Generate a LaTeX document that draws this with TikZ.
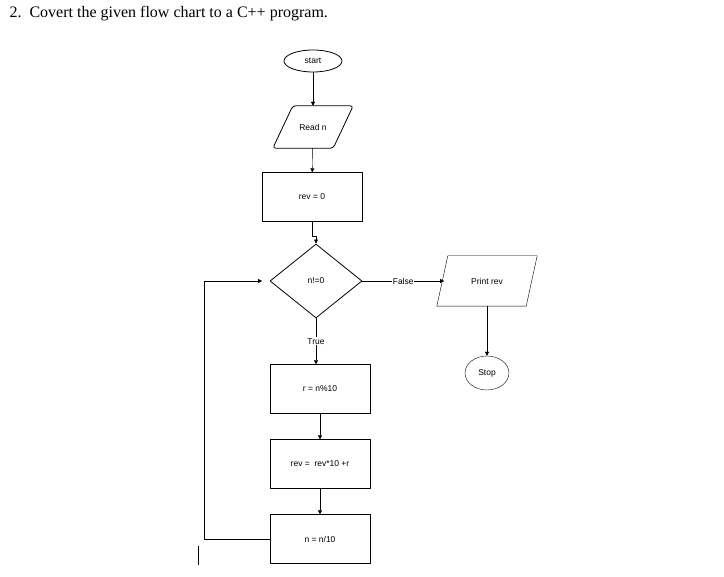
\documentclass[tikz,border=0pt]{standalone}
\usepackage{fontspec}
\setmainfont{Liberation Serif}
\newfontfamily\chartfont{Liberation Sans}
\usetikzlibrary{shapes.geometric,arrows.meta,positioning,calc}

\begin{document}
\begin{tikzpicture}[x=1pt,y=-1pt, line join=round,
  every node/.style={font=\chartfont\fontsize{8.5}{10}\selectfont},
  proc/.style={draw,minimum width=100pt,minimum height=49pt,inner sep=0pt},
  iobox/.style={minimum width=60pt,minimum height=42pt,inner sep=0pt},
  term/.style={draw,ellipse,inner sep=0pt},
  flow/.style={-{Triangle[length=4pt,width=4pt]}}]
\useasboundingbox (0,0) rectangle (724,577);
\node[anchor=west,font=\fontsize{16}{18}\selectfont] (title) at (6,14) {2.\enspace Covert the given flow chart to a C++ program.};
\node[term,thick,minimum width=58pt,minimum height=22pt] (start) at (313,61) {start};
\node[iobox] (read) at (313,127) {Read n};
\draw[thick,rounded corners=3pt] ($(read.north west)+(10,0)$) -- ($(read.north east)+(10,0)$)
  -- ($(read.south east)+(-10,0)$) -- ($(read.south west)+(-10,0)$) -- cycle;
\node[proc] (rev0) at (312,197) {rev = 0};
\node[draw,thick,diamond,aspect=1.25,minimum width=92pt,minimum height=74pt,inner sep=0pt] (cond) at (316,281) {n!=0};
\node[iobox,minimum width=89pt,minimum height=50pt] (print) at (487,281) {Print rev};
\draw ($(print.north west)+(5.5,0)$) -- ($(print.north east)+(5.5,0)$)
  -- ($(print.south east)+(-5.5,0)$) -- ($(print.south west)+(-5.5,0)$) -- cycle;
\node[term,minimum width=44pt,minimum height=34pt] (stop) at (487,373) {Stop};
\node[proc] (mod) at (320,389) {r = n\%10};
\node[proc] (upd) at (320,464) {rev =\ \ rev*10 +r};
\node[proc] (div) at (320,539) {n = n/10};
\coordinate (back) at (262,281);
\coordinate (in) at (444,281);
\draw[flow] (start) -- (read);
\draw[flow] (read) -- (rev0);
\draw[flow] (rev0.south) -- ++(0,15) -| (cond.north);
\draw[flow] (cond.east) -- node[fill=white,inner sep=0.5pt]{False} (in);
\draw[flow] (print) -- (stop);
\draw[flow] (cond.south) -- node[fill=white,inner sep=1pt]{True} (cond.south |- mod.north);
\draw[flow] (mod) -- (upd);
\draw[flow] (upd) -- (div);
\draw[flow] (div.west) -- ++(-66,0) |- (back);
\draw (198,546) -- (198,565);
\end{tikzpicture}
\end{document}
